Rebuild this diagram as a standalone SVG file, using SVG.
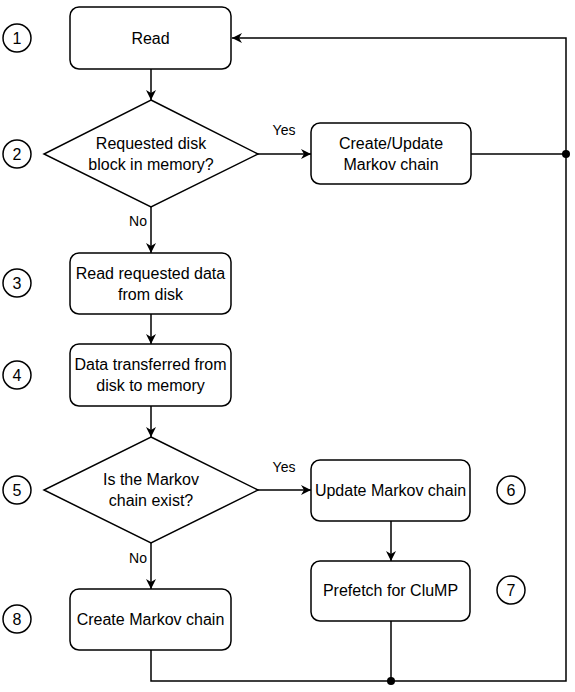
<svg xmlns="http://www.w3.org/2000/svg" width="575" height="692" viewBox="0 0 575 692">
<style>
.box{fill:#fff;stroke:#000;stroke-width:1.5}
.num{fill:#fff;stroke:#000;stroke-width:1.5}
.t{font-family:"Liberation Sans",Arial,sans-serif;font-size:16px;fill:#000;text-anchor:middle;dominant-baseline:central}
.lbl{font-family:"Liberation Sans",Arial,sans-serif;font-size:14px;fill:#000;text-anchor:middle;dominant-baseline:central}
.c{fill:none;stroke:#000;stroke-width:1.5}
</style>
<defs>
<marker id="arr" viewBox="0 0 10 10" refX="10" refY="5" markerWidth="10" markerHeight="10" markerUnits="userSpaceOnUse" orient="auto">
<path d="M0,0 L10,5 L0,10 L3,5 Z" fill="#000"/>
</marker>
</defs>
<rect width="575" height="692" fill="#fff"/>
<g id="connectors">
<line class="c" x1="151" y1="69" x2="151" y2="100" marker-end="url(#arr)"/>
<line class="c" x1="258" y1="154" x2="311" y2="154" marker-end="url(#arr)"/>
<line class="c" x1="471" y1="154" x2="566" y2="154"/>
<line class="c" x1="151" y1="207" x2="151" y2="253" marker-end="url(#arr)"/>
<line class="c" x1="151" y1="314" x2="151" y2="344" marker-end="url(#arr)"/>
<line class="c" x1="151" y1="406" x2="151" y2="437" marker-end="url(#arr)"/>
<line class="c" x1="258" y1="490" x2="311" y2="490" marker-end="url(#arr)"/>
<line class="c" x1="391" y1="521" x2="391" y2="561" marker-end="url(#arr)"/>
<line class="c" x1="151" y1="543" x2="151" y2="589" marker-end="url(#arr)"/>
<polyline class="c" points="151,650 151,681 566,681 566,38 232,38" marker-end="url(#arr)"/>
<line class="c" x1="391" y1="621" x2="391" y2="681"/>
<circle cx="566" cy="154" r="4" fill="#000"/>
<circle cx="391" cy="681" r="4" fill="#000"/>
<text class="lbl" x="284" y="130">Yes</text>
<text class="lbl" x="138" y="221">No</text>
<text class="lbl" x="284" y="467">Yes</text>
<text class="lbl" x="138" y="558">No</text>
</g>
<g id="n1">
<circle class="num" cx="17" cy="38" r="14"/><text class="t" x="17" y="38">1</text>
<rect class="box" x="70" y="7" width="161" height="62" rx="9"/>
<text class="t" x="150.5" y="38">Read</text>
</g>
<g id="n2">
<circle class="num" cx="17" cy="154" r="14"/><text class="t" x="17" y="154">2</text>
<polygon class="box" points="151,100 258,154 151,207 44,154"/>
<text class="t" x="151" y="143">Requested disk</text>
<text class="t" x="151" y="164">block in memory?</text>
</g>
<g id="n2y">
<rect class="box" x="311" y="123" width="160" height="61" rx="9"/>
<text class="t" x="391" y="143">Create/Update</text>
<text class="t" x="391" y="164">Markov chain</text>
</g>
<g id="n3">
<circle class="num" cx="17" cy="283" r="14"/><text class="t" x="17" y="283">3</text>
<rect class="box" x="70" y="253" width="161" height="61" rx="9"/>
<text class="t" x="150.5" y="273">Read requested data</text>
<text class="t" x="150.5" y="294">from disk</text>
</g>
<g id="n4">
<circle class="num" cx="17" cy="375" r="14"/><text class="t" x="17" y="375">4</text>
<rect class="box" x="70" y="344" width="161" height="62" rx="9"/>
<text class="t" x="150.5" y="364">Data transferred from</text>
<text class="t" x="150.5" y="385">disk to memory</text>
</g>
<g id="n5">
<circle class="num" cx="17" cy="490" r="14"/><text class="t" x="17" y="490">5</text>
<polygon class="box" points="151,437 258,490 151,543 44,490"/>
<text class="t" x="151" y="479">Is the Markov</text>
<text class="t" x="151" y="500">chain exist?</text>
</g>
<g id="n6">
<rect class="box" x="311" y="460" width="159" height="61" rx="9"/>
<text class="t" x="390.5" y="490">Update Markov chain</text>
<circle class="num" cx="511" cy="490" r="14"/><text class="t" x="511" y="490">6</text>
</g>
<g id="n7">
<rect class="box" x="311" y="561" width="159" height="60" rx="9"/>
<text class="t" x="390.5" y="590">Prefetch for CluMP</text>
<circle class="num" cx="511" cy="590" r="14"/><text class="t" x="511" y="590">7</text>
</g>
<g id="n8">
<circle class="num" cx="17" cy="619" r="14"/><text class="t" x="17" y="619">8</text>
<rect class="box" x="70" y="589" width="161" height="61" rx="9"/>
<text class="t" x="150.5" y="619">Create Markov chain</text>
</g>
</svg>
